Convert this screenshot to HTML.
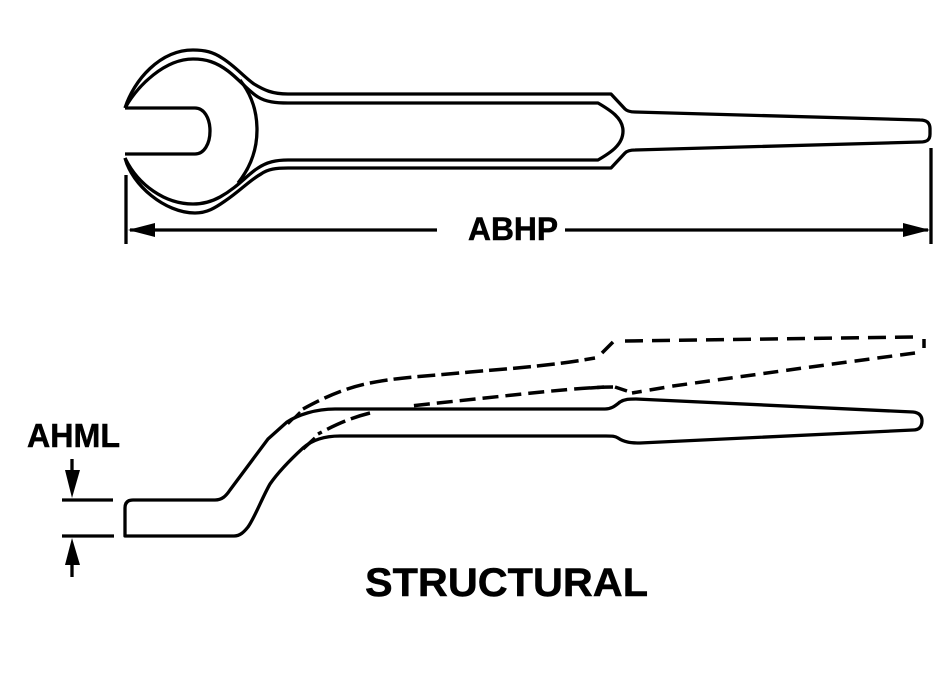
<!DOCTYPE html>
<html><head><meta charset="utf-8"><style>
html,body{margin:0;padding:0;background:#fff;width:949px;height:673px;overflow:hidden}
svg{display:block}
text{font-family:"Liberation Sans",sans-serif;font-weight:bold;fill:#000;stroke:#000;stroke-width:.5}
</style></head><body>
<svg width="949" height="673" viewBox="0 0 949 673" xmlns="http://www.w3.org/2000/svg">
<g fill="none" stroke="#000" stroke-width="3.3" stroke-linejoin="round" stroke-linecap="butt">
<!-- top wrench -->
<path d="M125 108C134 80 160 50 193 50C205 50 213 52 222 58C235 66 244 77 254 84C264 90 272 94 288 94L611 94L625 109Q628 112 635 112L920 120C927 120 930 123 930 129L930 134C930 140 927 142 920 142L635 150Q628 150 625 153L611 168L288 168C276 168 268 169 261 174C250 180 240 191 225 201C215 208 207 213 195 213C165 213 132 185 125 158"/>
<path d="M125 108C138 85 165 59 193 59C206 59 216 62 228 71C240 80 248 91 258 97C266 102 276 103 288 103L598 103C610 110 623 118 623 131C623 145 610 153 598 160L288 160C276 160 267 162 258 168C248 174 238 187 220 197C211 202 203 204 193 204C165 204 138 185 125 158"/>
<path d="M240 80C252 95 257 112 257 130C257 150 250 168 238 183"/>
<path d="M125 108H195C204 108 210 118 210 131C210 144 204 154 195 154H125"/>
<!-- dimension -->
<path d="M126 175V244M931 148V244M130 230H437M565 230H928"/>
<!-- side view -->
<path d="M125 536V508Q125 500 133 500H215C222 500 226 496 230 490L268 439L287 422C298 415 315 409 335 409H605C612 409 616 405 620 402C625 399 629 399 636 399L913 412Q922 413 922 421Q922 430 913 430L640 443C630 443 624 442 618 438C615 436 612 436 606 436H340C325 436 312 440 303 448C290 460 279 471 270 484C262 498 255 517 248 527C244 532 240 536 234 536Z"/>
<path d="M72 459V475M72 560V577M62 500H113M62 536H114"/>
<path d="M288 424L300 412" stroke-width="2.5"/>
<path d="M303 449L315 438" stroke-width="3.5"/>
<!-- dashed -->
<g stroke-width="3.5">
<path stroke-dasharray="18 6" d="M303 409C325 397 345 388 370 383C400 377 430 376 470 372C505 369 550 366 595 358"/>
<path d="M602 353L613 342"/>
<path stroke-dasharray="18 9" d="M625 341L914 337"/>
<path d="M924 339V348"/>
<path stroke-dasharray="15 8" d="M915 353L803 368L673 386L632 393"/>
<path d="M627 391L615 387M590 388L604 387"/>
<path stroke-dasharray="16 7" d="M613 387C590 387 550 391 513 395L410 406"/>
<path stroke-dasharray="20 6" d="M370 413C350 418 335 425 318 434"/>
</g>
</g>
<g fill="#000" stroke="none">
<polygon points="128,230 155,223 155,237"/>
<polygon points="930,230 903,223 903,237"/>
<polygon points="65,470 80,470 72,498"/>
<polygon points="65,565 80,565 72,538"/>
</g>
<text x="468" y="240" font-size="32" textLength="90" lengthAdjust="spacingAndGlyphs">ABHP</text>
<text x="27" y="447" font-size="33" textLength="93" lengthAdjust="spacingAndGlyphs">AHML</text>
<text x="365" y="596" font-size="40" textLength="283" lengthAdjust="spacingAndGlyphs">STRUCTURAL</text>
</svg>
</body></html>
